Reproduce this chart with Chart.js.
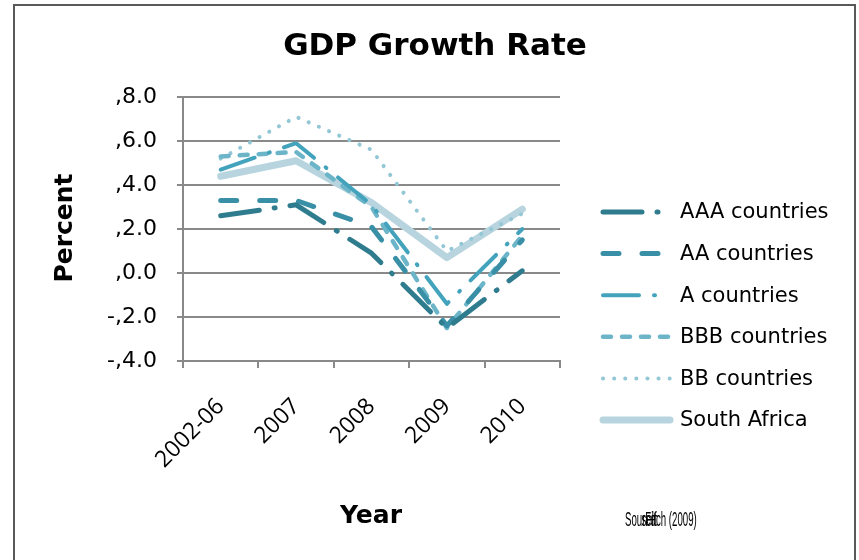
<!DOCTYPE html>
<html>
<head>
<meta charset="utf-8">
<title>GDP Growth Rate</title>
<script src="https://cdn.jsdelivr.net/npm/chart.js@4.4.1/dist/chart.umd.min.js"></script>
<style>
    html, body { margin: 0; padding: 0; background: #fff; }
    #gdpChart { display: block; }
</style>
</head>
<body>
<canvas id="gdpChart" width="859" height="560"></canvas>
<script>
//============================================= Data =============================================//
const years = ['2002-06', '2007', '2008', '2009', '2010'];
const seriesNames = ['AAA countries', 'AA countries', 'A countries', 'BBB countries', 'BB countries', 'South Africa'];

const aaaGrowth = [2.6, 3.1, 0.9, -2.5, 0.1];
const aaGrowth = [3.3, 3.3, 2.1, -2.4, 1.5];
const aGrowth = [4.7, 5.9, 3.1, -1.4, 2.0];
const bbbGrowth = [5.3, 5.5, 3.0, -2.5, 1.7];
const bbGrowth = [5.2, 7.1, 5.6, 1.0, 2.7];
const southAfricaGrowth = [4.4, 5.1, 3.2, 0.7, 2.9];

const yTickValues = [-4, -2, 0, 2, 4, 6, 8];

//============================================= Styles =============================================//
const lineStyles = [
    { color: '#2f7c8e', width: 5, dash: [39, 15, 1, 15] },
    { color: '#3990a6', width: 5, dash: [16, 23] },
    { color: '#44a3bc', width: 4, dash: [36, 15, 1, 15] },
    { color: '#6cb5c9', width: 4.5, dash: [8, 11] },
    { color: '#93c7d6', width: 4, dash: [0.1, 11] },
    { color: '#b8d5df', width: 7, dash: [] }
];

const seriesValues = [aaaGrowth, aaGrowth, aGrowth, bbbGrowth, bbGrowth, southAfricaGrowth];

const datasets = seriesValues.map((values, i) => ({
    label: seriesNames[i],
    data: values,
    borderColor: lineStyles[i].color,
    borderWidth: lineStyles[i].width,
    borderDash: lineStyles[i].dash,
    borderCapStyle: 'round',
    borderJoinStyle: 'round',
    pointRadius: 0,
    tension: 0,
    fill: false,
    order: i // later series sit underneath the darker ones
}));

const gridGrey = '#898989';

//============================================= Extra text, legend, frame =============================================//
const chartDecor = {
    id: 'chartDecor',
    afterDraw(chart) {
        const { ctx } = chart;
        ctx.save();

        // outer frame
        ctx.strokeStyle = '#595959';
        ctx.lineWidth = 2;
        ctx.strokeRect(14, 5, 841, 700);

        ctx.fillStyle = '#000';
        ctx.textAlign = 'center';
        ctx.textBaseline = 'middle';

        ctx.font = 'bold 31px "DejaVu Sans"';
        ctx.fillText('GDP Growth Rate', 435, 47);

        ctx.font = 'bold 25px "DejaVu Sans"';
        ctx.fillText('Year', 371, 516);

        ctx.save();
        ctx.translate(65, 228);
        ctx.rotate(-Math.PI / 2);
        ctx.fillText('Percent', 0, 0);
        ctx.restore();

        // legend
        ctx.font = '21px "DejaVu Sans"';
        ctx.textAlign = 'left';
        chart.data.datasets.forEach((ds, i) => {
            const y = 212 + i * 41.6;
            ctx.save();
            ctx.strokeStyle = ds.borderColor;
            ctx.lineWidth = ds.borderWidth;
            ctx.lineCap = 'round';
            ctx.setLineDash(ds.borderDash);
            ctx.beginPath();
            ctx.moveTo(603, y);
            ctx.lineTo(670, y);
            ctx.stroke();
            ctx.restore();
            ctx.fillText(ds.label, 680, y + 1);
        });

        // squeezed source note
        ctx.font = '21px "Liberation Sans"';
        ctx.save();
        ctx.translate(625, 520);
        ctx.scale(0.46, 1);
        ctx.fillText('Source:', 0, 0);
        ctx.fillText('self', 36, 0);
        ctx.fillText('Fitch (2009)', 44, 0);
        ctx.restore();

        ctx.restore();
    }
};

//============================================= Line chart =============================================//
const lineConfig = {
    type: 'line',
    data: {
        labels: years,
        datasets: datasets
    },
    options: {
        responsive: false,
        animation: false,
        layout: {
            padding: { left: 0, right: 299, top: 97, bottom: 0 }
        },
        plugins: {
            legend: { display: false },
            title: { display: false },
            tooltip: { enabled: false }
        },
        scales: {
            x: {
                offset: true,
                afterFit: (scale) => { scale.height = 199; },
                grid: {
                    offset: true,
                    drawOnChartArea: false,
                    color: gridGrey,
                    lineWidth: 2,
                    tickLength: 7
                },
                border: { color: gridGrey, width: 2 },
                ticks: {
                    color: '#000',
                    font: { family: 'Open Sans', size: 23 },
                    minRotation: 45,
                    maxRotation: 45,
                    padding: 25
                }
            },
            y: {
                min: yTickValues[0],
                max: yTickValues[yTickValues.length - 1],
                afterFit: (scale) => { scale.width = 183; },
                afterBuildTicks: (scale) => {
                    scale.ticks = yTickValues.map(v => ({ value: v }));
                },
                grid: {
                    color: gridGrey,
                    lineWidth: 2,
                    tickLength: 6
                },
                border: { color: gridGrey, width: 2 },
                ticks: {
                    color: '#000',
                    font: { family: 'DejaVu Sans', size: 22 },
                    padding: 20,
                    callback: (value) => (value < 0 ? '-,' : ',') + Math.abs(value).toFixed(1)
                }
            }
        }
    },
    plugins: [chartDecor]
};

new Chart(document.getElementById('gdpChart'), lineConfig);
</script>
</body>
</html>
